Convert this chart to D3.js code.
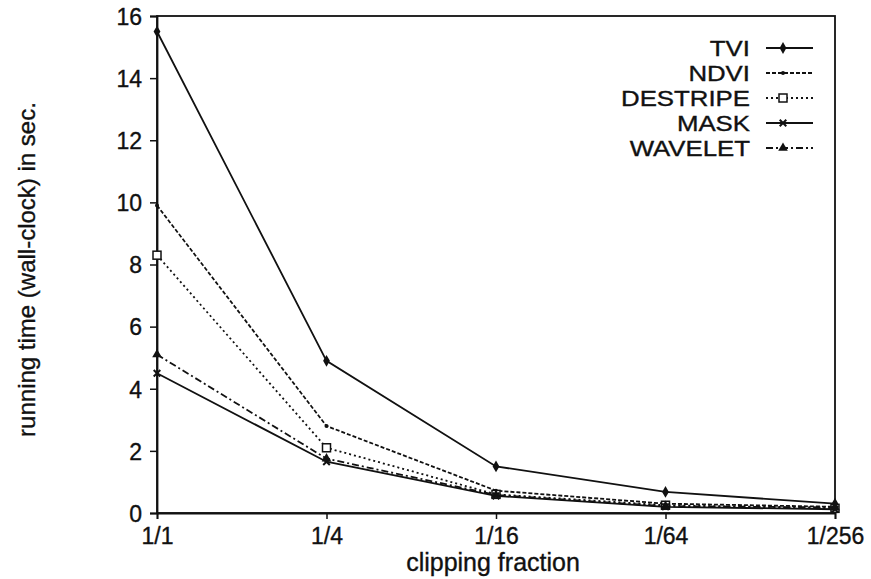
<!DOCTYPE html>
<html>
<head>
<meta charset="utf-8">
<script src="https://cdn.jsdelivr.net/npm/d3@7"></script>
<style>
  body { margin: 0; background: #fff; }
  text { font-family: "Liberation Sans", Arial, sans-serif; fill: #111; stroke: #111; stroke-width: 0.35px; }
</style>
</head>
<body>
<svg class="chart" width="871" height="579"></svg>
<script>
// Chart values.
var fractions = ["1/1", "1/4", "1/16", "1/64", "1/256"];
var yTicks = [0, 2, 4, 6, 8, 10, 12, 14, 16];
var tvi = [15.5, 4.9, 1.5, 0.68, 0.3];
var ndvi = [9.9, 2.8, 0.72, 0.3, 0.2];
var destripe = [8.3, 2.1, 0.6, 0.25, 0.15];
var mask = [4.5, 1.65, 0.55, 0.2, 0.12];
var wavelet = [5.1, 1.75, 0.58, 0.22, 0.18];

var seriesNames = ["TVI", "NDVI", "DESTRIPE", "MASK", "WAVELET"];
var seriesValues = [tvi, ndvi, destripe, mask, wavelet];
var dashes = [null, "4,2", "2,3", null, "7,3,2,3"];
var markers = ["diamond", "dot", "square", "cross", "triangle"];

// Margins and plot size.
var margin = { top: 16, right: 36, bottom: 66, left: 157 },
    width = 871 - margin.left - margin.right,
    height = 579 - margin.top - margin.bottom;

var svg = d3.select(".chart")
    .append("g")
    .attr("transform", "translate(" + margin.left + "," + margin.top + ")");

var x = d3.scalePoint().domain(fractions).range([0, width]);
var y = d3.scaleLinear().domain([0, 16]).range([height, 0]);

// Frame.
svg.append("rect")
    .attr("width", width)
    .attr("height", height)
    .attr("fill", "none")
    .attr("stroke", "#111")
    .attr("stroke-width", 1.8);

// Axes.
var xAxis = svg.append("g")
    .attr("transform", "translate(0," + height + ")")
    .call(d3.axisBottom(x).tickSize(6).tickPadding(5));
var yAxis = svg.append("g")
    .call(d3.axisLeft(y).tickValues(yTicks).tickSize(7).tickPadding(8));
[xAxis, yAxis].forEach(function (a) {
    a.select(".domain").attr("stroke", "#111").attr("stroke-width", 1.8);
    a.selectAll(".tick line").attr("stroke", "#111").attr("stroke-width", 1.5);
    a.selectAll(".tick text")
        .style("font-family", "'Liberation Sans', Arial, sans-serif")
        .style("font-size", "23px")
        .attr("fill", "#111");
});
xAxis.selectAll(".tick text").attr("dy", "0.85em");
yAxis.selectAll(".tick text").attr("dy", "0.36em");

// Axis titles.
svg.append("text")
    .attr("x", width / 2 - 3)
    .attr("y", height + 58)
    .attr("text-anchor", "middle")
    .style("font-size", "25px")
    .text("clipping fraction");

svg.append("text")
    .attr("transform", "translate(-122," + (height / 2 + 5) + ") rotate(-90)")
    .attr("text-anchor", "middle")
    .style("font-size", "24px")
    .text("running time (wall-clock) in sec.");

// Draws one marker shape at (cx, cy).
function drawMarker(g, kind, cx, cy) {
    if (kind === "diamond") {
        g.append("path").attr("d", d3.symbol(d3.symbolDiamond, 40)())
            .attr("transform", "translate(" + cx + "," + cy + ")").attr("fill", "#111");
    } else if (kind === "dot") {
        g.append("circle").attr("cx", cx).attr("cy", cy).attr("r", 2).attr("fill", "#111");
    } else if (kind === "square") {
        g.append("rect").attr("x", cx - 4).attr("y", cy - 4).attr("width", 8).attr("height", 8)
            .attr("fill", "#fff").attr("stroke", "#111").attr("stroke-width", 1.5);
    } else if (kind === "cross") {
        g.append("path").attr("d", d3.symbol(d3.symbolX, 30)())
            .attr("transform", "translate(" + cx + "," + cy + ")")
            .attr("fill", "none").attr("stroke", "#111").attr("stroke-width", 2);
    } else {
        g.append("path").attr("d", d3.symbol(d3.symbolTriangle, 40)())
            .attr("transform", "translate(" + cx + "," + cy + ")").attr("fill", "#111");
    }
}

var line = d3.line()
    .x(function (d, i) { return x(fractions[i]); })
    .y(function (d) { return y(d); });

seriesValues.forEach(function (vals, s) {
    var g = svg.append("g");
    g.append("path")
        .datum(vals)
        .attr("d", line)
        .attr("fill", "none")
        .attr("stroke", "#111")
        .attr("stroke-width", 1.8)
        .attr("stroke-dasharray", dashes[s]);
    vals.forEach(function (v, i) {
        drawMarker(g, markers[s], x(fractions[i]), y(v));
    });
});

// Legend: text is a bit condensed in height but stretched sideways like the scan.
var legend = svg.append("g").attr("transform", "translate(" + (width - 85) + ",32)");
seriesNames.forEach(function (name, s) {
    var row = legend.append("g").attr("transform", "translate(0," + (s * 25) + ")");
    row.append("text")
        .attr("transform", "scale(1.2,1)")
        .attr("x", 0)
        .attr("y", 0)
        .attr("dy", "0.36em")
        .attr("text-anchor", "end")
        .style("font-size", "21.5px")
        .text(name);
    row.append("line")
        .attr("x1", 16).attr("x2", 63)
        .attr("stroke", "#111")
        .attr("stroke-width", 1.8)
        .attr("stroke-dasharray", dashes[s]);
    drawMarker(row, markers[s], 33, 0);
});
</script>
</body>
</html>
